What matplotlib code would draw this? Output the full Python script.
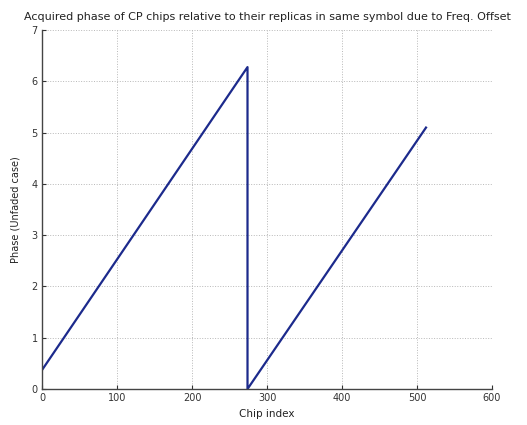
import matplotlib
matplotlib.use("Agg")
import matplotlib.pyplot as plt

# Accumulated phase samples (chip index, phase in rad) along the wrapped ramp
chip_index = [0, 274, 274, 512]
phase = [0.37, 6.28, 0.0, 5.1]

x_ticks = [0, 100, 200, 300, 400, 500, 600]
y_ticks = [0, 1, 2, 3, 4, 5, 6, 7]

fig = plt.figure(figsize=(5.27, 4.25), dpi=100)
ax = fig.add_axes([0.0797, 0.0847, 0.8539, 0.8443])

ax.plot(chip_index, phase, color="#1c2a8c", linewidth=1.6)

ax.set_xlim(0, 600)
ax.set_ylim(0, 7)
ax.set_xticks(x_ticks)
ax.set_yticks(y_ticks)
ax.tick_params(direction="in", length=3, labelsize=7, colors="#333333", pad=3)
ax.grid(True, linestyle=":", color="#b8b8b8", linewidth=0.7)

for side in ("top", "right"):
    ax.spines[side].set_visible(False)
for side in ("left", "bottom"):
    ax.spines[side].set_color("#444444")
    ax.spines[side].set_linewidth(1.0)

ax.set_title("Acquired phase of CP chips relative to their replicas in same symbol due to Freq. Offset",
             fontsize=8, color="#222222", pad=7)
ax.set_xlabel("Chip index", fontsize=7.5, color="#222222", labelpad=4)
ax.set_ylabel("Phase (Unfaded case)", fontsize=7, color="#222222", labelpad=8)

fig.savefig("out.png", dpi=100)
